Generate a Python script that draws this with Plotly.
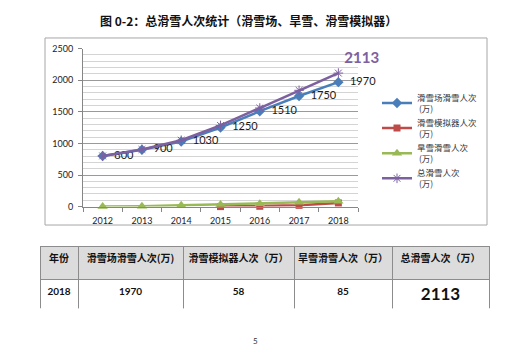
import plotly.graph_objects as go

W, H = 529, 356

years = ["2012", "2013", "2014", "2015", "2016", "2017", "2018"]
resort = [800, 900, 1030, 1250, 1510, 1750, 1970]
simulator = [None, None, None, 0, 5, 20, 58]
dry_slope = [2, 5, 20, 35, 45, 70, 85]
total = [802, 905, 1050, 1285, 1560, 1840, 2113]

series_names = ["滑雪场滑雪人次<br> (万)", "滑雪模拟器人次<br> (万)", "旱雪滑雪人次<br> (万)", "总滑雪人次<br> (万)"]

table_header = ["年份", "滑雪场滑雪人次(万)", "滑雪模拟器人次（万）", "旱雪滑雪人次（万）", "总滑雪人次（万）"]
table_row = ["2018", "1970", "58", "85", "2113"]

title_text = "图 0-2：总滑雪人次统计（滑雪场、旱雪、滑雪模拟器）"

def px(x):
    return x / W

def py(y):
    return 1 - y / H

FONT = "Lato, 'Noto Sans CJK SC', sans-serif"
CJK = "'Noto Sans CJK SC', sans-serif"

fig = go.Figure()

fig.add_trace(go.Scatter(
    x=years, y=resort, name=series_names[0], mode="lines+markers+text",
    line=dict(color="#4a7ebb", width=2.5), cliponaxis=False,
    marker=dict(symbol="diamond", size=8, color="#4a7ebb"),
    text=["  " + str(v) for v in resort], textposition="middle right",
    textfont=dict(family=FONT, size=11, color="#1a1a1a"),
))
fig.add_trace(go.Scatter(
    x=years, y=simulator, name=series_names[1], mode="lines+markers",
    line=dict(color="#be4b48", width=2.5), cliponaxis=False,
    marker=dict(symbol="square", size=7, color="#be4b48"),
))
fig.add_trace(go.Scatter(
    x=years, y=dry_slope, name=series_names[2], mode="lines+markers",
    line=dict(color="#98b954", width=2.5), cliponaxis=False,
    marker=dict(symbol="triangle-up", size=9, color="#98b954"),
))
fig.add_trace(go.Scatter(
    x=years, y=total, name=series_names[3], mode="lines+markers+text",
    line=dict(color="#7d60a0", width=2.5), cliponaxis=False,
    marker=dict(symbol="asterisk-open", size=8, color="#7d60a0", line=dict(width=1, color="#7d60a0")),
    text=["" for _ in total[:-1]] + [str(total[-1])], textposition="top right",
    textfont=dict(family=FONT, size=15, color="#7d60a0", weight="bold"),
))

fig.add_trace(go.Table(
    domain=dict(x=[px(40), px(489)], y=[py(312), py(248)]),
    columnwidth=[38, 105, 111, 98, 97],
    header=dict(
        values=table_header, fill_color="#dcdcdc", align="center", height=33,
        line=dict(color="#8c8c8c", width=1),
        font=dict(family=CJK, size=10, color="#111111", weight="bold"),
    ),
    cells=dict(
        values=[[v] for v in table_row], fill_color="white", align="center", height=31,
        line=dict(color="#8c8c8c", width=1),
        font=dict(family=FONT, size=[10, 10, 10, 10, 17], color="#111111", weight="bold"),
    ),
))

fig.update_layout(
    width=W, height=H, margin=dict(l=0, r=0, t=0, b=0),
    paper_bgcolor="white", plot_bgcolor="white",
    showlegend=True,
    legend=dict(
        x=px(377), y=py(82), xanchor="left", yanchor="top",
        font=dict(family=CJK, size=8.5, color="#333333"),
        bgcolor="rgba(0,0,0,0)", itemwidth=30, tracegroupgap=0,
    ),
    xaxis=dict(
        domain=[px(83), px(358)], type="category", range=[-0.5, 6.5],
        showgrid=False, showline=True, linecolor="#868686", linewidth=1,
        ticks="outside", tickson="boundaries", ticklen=4, tickcolor="#868686",
        ticklabelstandoff=6,
        tickfont=dict(family=FONT, size=9, color="#222222"),
        anchor="y", fixedrange=True,
    ),
    yaxis=dict(
        domain=[py(207), py(44)], range=[0, 2500], dtick=500,
        showgrid=True, gridcolor="#9a9a9a", gridwidth=1,
        minor=dict(dtick=100, showgrid=True, gridcolor="#d4d4d4", gridwidth=1),
        showline=True, linecolor="#868686", linewidth=1,
        ticks="outside", ticklen=4, tickcolor="#868686",
        ticklabelstandoff=3,
        tickfont=dict(family=FONT, size=9, color="#222222"),
        zeroline=False, anchor="x", fixedrange=True,
    ),
    shapes=[
        dict(type="rect", xref="paper", yref="paper",
             x0=px(45), x1=px(487), y0=py(226), y1=py(33),
             line=dict(color="#a6a6a6", width=1), fillcolor="rgba(0,0,0,0)", layer="below"),
    ],
    annotations=[
        dict(text=title_text, x=px(248), y=py(15), xref="paper", yref="paper",
             showarrow=False, xanchor="center", yanchor="middle",
             font=dict(family=CJK, size=12, color="#111111", weight="bold")),
        dict(text="5", x=px(255), y=py(346), xref="paper", yref="paper",
             showarrow=False, xanchor="center", yanchor="middle",
             font=dict(family=FONT, size=8, color="#333333")),
    ],
)

fig.write_html("out.html", config={"displayModeBar": False},
               post_script="document.body.style.margin='0';")
